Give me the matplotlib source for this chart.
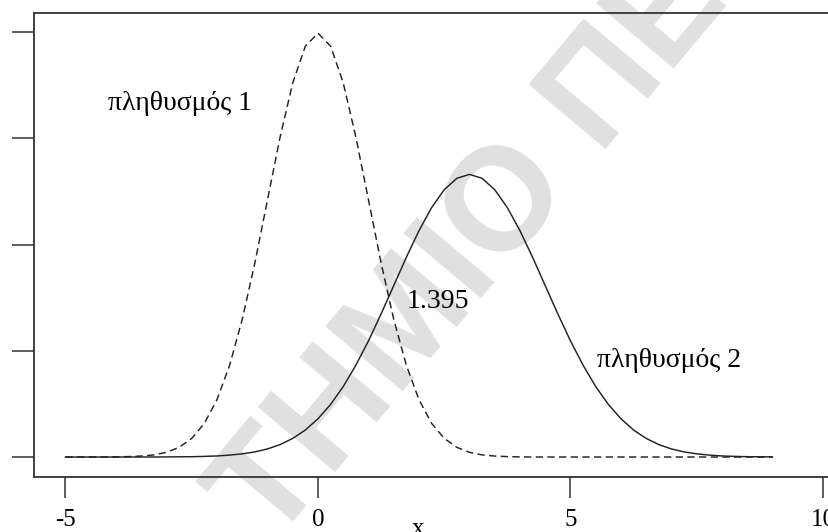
import matplotlib
matplotlib.use("Agg")
import matplotlib.pyplot as plt
import numpy as np

# x grid (step 0.25) and the two density curves
x_vals = np.arange(-5.0, 9.0001, 0.25)

# population 1 (dashed), peak at 0
pop1 = [0.0000, 0.0000, 0.0000, 0.0000, 0.0001, 0.0004, 0.0009, 0.0020,
        0.0044, 0.0091, 0.0175, 0.0317, 0.0540, 0.0863, 0.1295, 0.1826,
        0.2420, 0.3011, 0.3521, 0.3867, 0.3989, 0.3867, 0.3521, 0.3011,
        0.2420, 0.1826, 0.1295, 0.0863, 0.0540, 0.0317, 0.0175, 0.0091,
        0.0044, 0.0020, 0.0009, 0.0004, 0.0001, 0.0000, 0.0000, 0.0000,
        0.0000, 0.0000, 0.0000, 0.0000, 0.0000, 0.0000, 0.0000, 0.0000,
        0.0000, 0.0000, 0.0000, 0.0000, 0.0000, 0.0000, 0.0000, 0.0000,
        0.0000]

# population 2 (solid), peak at 3
pop2 = [0.0000, 0.0000, 0.0000, 0.0000, 0.0000, 0.0000, 0.0000, 0.0000,
        0.0001, 0.0002, 0.0003, 0.0006, 0.0010, 0.0018, 0.0030, 0.0048,
        0.0076, 0.0117, 0.0175, 0.0254, 0.0360, 0.0495, 0.0663, 0.0864,
        0.1093, 0.1347, 0.1613, 0.1880, 0.2130, 0.2347, 0.2516, 0.2623,
        0.2660, 0.2623, 0.2516, 0.2347, 0.2130, 0.1880, 0.1613, 0.1347,
        0.1093, 0.0864, 0.0663, 0.0495, 0.0360, 0.0254, 0.0175, 0.0117,
        0.0076, 0.0048, 0.0030, 0.0018, 0.0010, 0.0006, 0.0003, 0.0002,
        0.0001]

x_ticks = [-5, 0, 5, 10]
y_ticks = [0.0, 0.1, 0.2, 0.3, 0.4]
label1 = "πληθυσμός 1"
label2 = "πληθυσμός 2"
cross_label = "1.395"

plt.rcParams['font.family'] = ['Liberation Serif', 'DejaVu Serif']
plt.rcParams['axes.unicode_minus'] = False

fig = plt.figure(figsize=(8.29, 5.32), dpi=100)
ax = fig.add_axes([0.041, 0.1034, 0.9662, 0.8722])
ax.set_zorder(2)
ax.set_facecolor('none')

# faint watermark behind everything
fig.text(472 / 829, 1 - 250 / 532, "ΤΗΜΙΟ ΠΕ", family='Liberation Sans',
         weight='bold', fontsize=105, color='#e0e0e0', rotation=50,
         ha='center', va='center', zorder=0)

ax.plot(x_vals, pop1, color='#222222', lw=1.05, linestyle=(0, (5, 3)))
ax.plot(x_vals, pop2, color='#222222', lw=1.05)

ax.text(-4.16, 0.333, label1, fontsize=20, va='center', ha='left')
ax.text(1.76, 0.146, cross_label, fontsize=20, va='center', ha='left')
ax.text(5.52, 0.091, label2, fontsize=20, va='center', ha='left')

ax.set_xlim(-5.624, 10.238)
ax.set_ylim(-0.0188, 0.4179)
ax.set_xticks(x_ticks)
ax.set_xticklabels([str(t) for t in x_ticks])
ax.set_yticks(y_ticks)
ax.tick_params(axis='x', length=15, width=1.1, pad=8, labelsize=18, color='#333333')
ax.tick_params(axis='y', length=16, width=1.1, labelleft=False, color='#333333')
for s in ax.spines.values():
    s.set_linewidth(1.3)
    s.set_color('#333333')

ax.set_xlabel("x", fontsize=18)
ax.xaxis.set_label_coords(0.479, -0.088)

fig.savefig("out.png", dpi=100)
